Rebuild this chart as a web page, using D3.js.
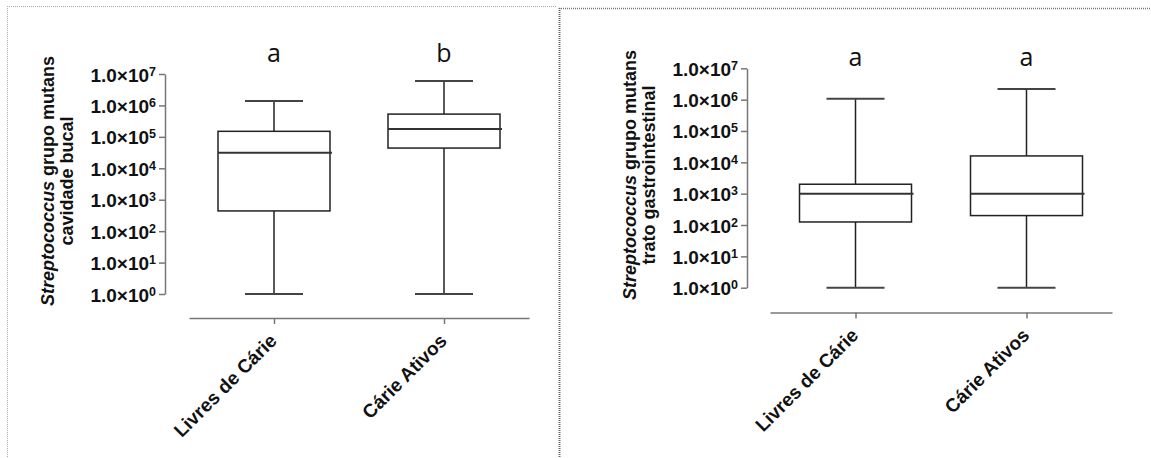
<!DOCTYPE html>
<html>
<head>
<meta charset="utf-8">
<script src="https://cdn.jsdelivr.net/npm/d3@7"></script>
<style>
  body { margin: 0; background: #fff; }
  svg { display: block; }
  .lbl { font-family: "Liberation Sans", Arial, sans-serif; font-weight: bold; fill: #111; }
</style>
</head>
<body>
<div id="chart"></div>
<script>
// grupos e letras de significância
const groups = ["Livres de Cárie", "Cárie Ativos"];
const letrasBucal = ["a", "b"];
const letrasGI = ["a", "a"];

// cavidade bucal (UFC)
const bucalMin = [1, 1];
const bucalQ1 = [440, 44000];
const bucalMed = [31000, 178000];
const bucalQ3 = [150000, 530000];
const bucalMax = [1380000, 6000000];

// trato gastrointestinal
const giMin = [1, 1];
const giQ1 = [125, 200];
const giMed = [1000, 1000];
const giQ3 = [2000, 16000];
const giMax = [1070000, 2190000];

// ticks do eixo y: 1.0x10^0 ... 1.0x10^7
const tickExps = [0, 1, 2, 3, 4, 5, 6, 7];

const W = 1151, H = 458;
const svg = d3.select("#chart").append("svg")
    .attr("width", W)
    .attr("height", H);

// molduras pontilhadas
svg.append("line").attr("x1", 7).attr("x2", 556).attr("y1", 6.5).attr("y2", 6.5)
    .attr("stroke", "#aaa").attr("stroke-dasharray", "1,1");
svg.append("line").attr("x1", 7.5).attr("x2", 7.5).attr("y1", 6).attr("y2", H)
    .attr("stroke", "#aaa").attr("stroke-dasharray", "1,1");
svg.append("line").attr("x1", 559.5).attr("x2", 559.5).attr("y1", 8).attr("y2", H)
    .attr("stroke", "#666").attr("stroke-width", 2).attr("stroke-dasharray", "1,1");
svg.append("line").attr("x1", 559).attr("x2", W).attr("y1", 8.5).attr("y2", 8.5)
    .attr("stroke", "#777").attr("stroke-width", 1.5).attr("stroke-dasharray", "1,1");

function drawPanel(p) {
    const g = svg.append("g");
    const y = d3.scaleLog().domain([1, 1e7]).range([p.yBottom, p.yTop]);
    const x = d3.scalePoint().domain(groups).range([p.xLeft, p.xRight]).padding(0.5);
    const boxW = 112, capW = 58;

    // eixo y
    const yAxis = g.append("g")
        .attr("transform", `translate(${p.axisX},0)`)
        .call(d3.axisLeft(y)
            .tickValues(tickExps.map(e => Math.pow(10, e)))
            .tickSize(6)
            .tickSizeOuter(0)
            .tickFormat(""));
    yAxis.selectAll("path, line").attr("stroke", "#777").attr("stroke-width", 1.5);

    yAxis.selectAll(".tick").each(function(d) {
        const t = d3.select(this).append("text")
            .attr("class", "lbl")
            .attr("x", -9)
            .attr("y", 7)
            .attr("text-anchor", "end")
            .attr("font-size", 19);
        t.append("tspan").text("1.0\u00d710");
        t.append("tspan").attr("font-size", 12.5).attr("dy", -6).text(Math.round(Math.log10(d)));
    });

    // eixo x
    const xAxis = g.append("g")
        .attr("transform", `translate(0,${p.axisY})`)
        .call(d3.axisBottom(x).tickSize(6).tickSizeOuter(0).tickFormat(""));
    xAxis.selectAll("path, line").attr("stroke", "#777").attr("stroke-width", 1.5);

    groups.forEach((name, i) => {
        const cx = x(name);
        g.append("text")
            .attr("class", "lbl")
            .attr("font-size", 19)
            .attr("text-anchor", "end")
            .attr("transform", `translate(${cx + 4},${p.axisY + 24}) rotate(-45)`)
            .text(name);

        // bigodes
        g.append("line").attr("x1", cx).attr("x2", cx)
            .attr("y1", y(p.max[i])).attr("y2", y(p.q3[i]))
            .attr("stroke", "#222").attr("stroke-width", 1.5);
        g.append("line").attr("x1", cx).attr("x2", cx)
            .attr("y1", y(p.q1[i])).attr("y2", y(p.min[i]))
            .attr("stroke", "#222").attr("stroke-width", 1.5);
        [p.max[i], p.min[i]].forEach(v => {
            g.append("line").attr("x1", cx - capW / 2).attr("x2", cx + capW / 2)
                .attr("y1", y(v)).attr("y2", y(v))
                .attr("stroke", "#444").attr("stroke-width", 2);
        });

        // caixa
        g.append("rect")
            .attr("x", cx - boxW / 2)
            .attr("y", y(p.q3[i]))
            .attr("width", boxW)
            .attr("height", y(p.q1[i]) - y(p.q3[i]))
            .attr("fill", "none")
            .attr("stroke", "#222")
            .attr("stroke-width", 1.5);
        g.append("line").attr("x1", cx - boxW / 2).attr("x2", cx + boxW / 2 + 2)
            .attr("y1", y(p.med[i])).attr("y2", y(p.med[i]))
            .attr("stroke", "#333").attr("stroke-width", 2);

        // letra de significância
        g.append("text")
            .attr("x", cx)
            .attr("y", p.letterY)
            .attr("text-anchor", "middle")
            .attr("font-family", "'Open Sans', sans-serif")
            .attr("font-size", 25)
            .attr("fill", "#111")
            .text(p.letters[i]);
    });

    // título do eixo y
    const midY = (p.yTop + p.yBottom) / 2 - 3;
    const t1 = g.append("text")
        .attr("class", "lbl")
        .attr("font-size", 18)
        .attr("text-anchor", "middle")
        .attr("transform", `translate(${p.axisX - 111},${midY}) rotate(-90)`);
    t1.append("tspan").attr("font-style", "italic").text("Streptococcus");
    t1.append("tspan").text(" grupo mutans");
    g.append("text")
        .attr("class", "lbl")
        .attr("font-size", 18)
        .attr("text-anchor", "middle")
        .attr("transform", `translate(${p.axisX - 92},${midY}) rotate(-90)`)
        .text(p.title2);
}

drawPanel({
    axisX: 165, yTop: 74, yBottom: 294,
    axisY: 318, xLeft: 189, xRight: 529,
    letterY: 62, letters: letrasBucal, title2: "cavidade bucal",
    min: bucalMin, q1: bucalQ1, med: bucalMed, q3: bucalQ3, max: bucalMax
});

drawPanel({
    axisX: 747, yTop: 68.3, yBottom: 287.7,
    axisY: 312.5, xLeft: 770, xRight: 1112,
    letterY: 66, letters: letrasGI, title2: "trato gastrointestinal",
    min: giMin, q1: giQ1, med: giMed, q3: giQ3, max: giMax
});
</script>
</body>
</html>
